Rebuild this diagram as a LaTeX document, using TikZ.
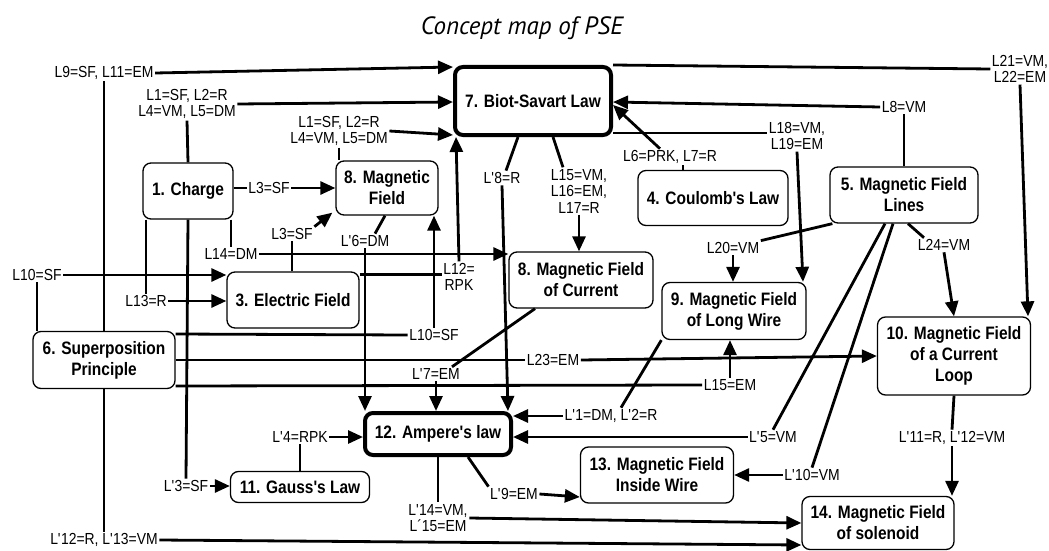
\documentclass[tikz,border=0pt]{standalone}
\usepackage{fontspec}
\setmainfont{Liberation Sans}
\newfontfamily\lblfont[FakeStretch=0.87]{Liberation Sans}
\newfontfamily\cfont[FakeStretch=0.86]{Liberation Sans}
\newfontfamily\titlefont{PT Sans}
\usetikzlibrary{arrows.meta,calc}
\newcommand\myq{\textquotesingle}
\begin{document}
\begin{tikzpicture}[x=1pt,y=-1pt,
  concept/.style={draw, rounded corners=8pt, line width=1.3pt, align=center, inner sep=0pt, font=\cfont\bfseries\fontsize{18}{21}\selectfont},
  mainc/.style={concept, line width=4pt},
  lbl/.style={inner sep=1.5pt, align=center, font=\lblfont\fontsize{16}{16.5}\selectfont},
  conn/.style={line width=2.8pt},
  arr/.style={conn, -{Triangle[length=15pt,width=13pt]}},
]
\useasboundingbox (0,0) rectangle (1049,551);

\node[font=\titlefont\itshape\fontsize{25}{28}\selectfont] (title) at (522,28) {Concept map of PSE};

% concepts
\node[mainc, minimum width=156pt, minimum height=68pt] (n7) at (533,101) {7. Biot-Savart Law};
\node[concept, minimum width=90pt, minimum height=56pt] (n1) at (188,191) {1. Charge};
\node[concept, minimum width=102pt, minimum height=54pt] (n8a) at (387,188) {8. Magnetic\\Field};
\node[concept, minimum width=150pt, minimum height=55pt] (n4) at (713,198) {4. Coulomb's Law};
\node[concept, minimum width=148pt, minimum height=56pt] (n5) at (904,195) {5. Magnetic Field\\Lines};
\node[concept, minimum width=132pt, minimum height=56pt] (n3) at (293,300) {3. Electric Field};
\node[concept, minimum width=144pt, minimum height=56pt] (n8b) at (581,280) {8. Magnetic Field\\of Current};
\node[concept, minimum width=144pt, minimum height=57pt] (n9) at (734,311) {9. Magnetic Field\\of Long Wire};
\node[concept, minimum width=153pt, minimum height=78pt] (n10) at (954,356) {10. Magnetic Field\\of a Current\\Loop};
\node[concept, minimum width=142pt, minimum height=57pt] (n6) at (104,360) {6. Superposition\\Principle};
\node[mainc, minimum width=146pt, minimum height=42pt] (n12) at (438,434) {12. Ampere's law};
\node[concept, minimum width=139pt, minimum height=31pt] (n11) at (300,487) {11. Gauss's Law};
\node[concept, minimum width=153pt, minimum height=56pt] (n13) at (657,475) {13. Magnetic Field\\Inside Wire};
\node[concept, minimum width=152pt, minimum height=53pt] (n14) at (878,523) {14. Magnetic Field\\of solenoid};

% labels
\node[lbl] (l9) at (104,73) {L9=SF, L11=EM};
\node[lbl] (lA) at (187,104) {L1=SF, L2=R\\L4=VM, L5=DM};
\node[lbl] (lB) at (339,131) {L1=SF, L2=R\\L4=VM, L5=DM};
\node[lbl] (l3a) at (269,188) {L3=SF};
\node[lbl] (l3b) at (292,234) {L3=SF};
\node[lbl] (l14) at (231,254) {L14=DM};
\node[lbl] (l6p) at (365,241) {L\myq6=DM};
\node[lbl] (l12) at (459,277) {L12=\\RPK};
\node[lbl] (l10b) at (434,335) {L10=SF};
\node[lbl] (l8p) at (502,178) {L\myq8=R};
\node[lbl] (l15) at (579,191) {L15=VM,\\L16=EM,\\L17=R};
\node[lbl] (l6) at (670,157) {L6=PRK, L7=R};
\node[lbl] (l8) at (904,107) {L8=VM};
\node[lbl] (l21) at (1020,69) {L21=VM,\\L22=EM};
\node[lbl] (l18) at (797,136) {L18=VM,\\L19=EM};
\node[lbl] (l20) at (733,248) {L20=VM};
\node[lbl] (l24) at (944,245) {L24=VM};
\node[lbl] (l5p) at (773,437) {L\myq5=VM};
\node[lbl] (l10p) at (812,475) {L\myq10=VM};
\node[lbl] (l1p) at (611,416) {L\myq1=DM, L\myq2=R};
\node[lbl] (l7p) at (436,374) {L\myq7=EM};
\node[lbl] (l23) at (553,360) {L23=EM};
\node[lbl] (l15b) at (730,385) {L15=EM};
\node[lbl] (l13) at (146,301) {L13=R};
\node[lbl] (l10a) at (37,275) {L10=SF};
\node[lbl] (l3p) at (186,486) {L\myq3=SF};
\node[lbl] (l4p) at (300,437) {L\myq4=RPK};
\node[lbl] (l9p) at (514,494) {L\myq9=EM};
\node[lbl] (l14p) at (438,518) {L\myq14=VM,\\L´15=EM};
\node[lbl] (l12p) at (104,540) {L\myq12=R, L\myq13=VM};
\node[lbl] (l11p) at (952,438) {L\myq11=R, L\myq12=VM};

% connectors
\draw[conn] (n6.north) -- (l9.south);
\draw[arr] (l9.east) -- ([yshift=34pt]n7.west);

\draw[conn] (n1.north) -- (lA.south);
\draw[arr] (lA.east) -- ([yshift=-1pt]n7.west);

\draw[conn] (lB.south) -- (lB.south |- n8a.north);
\draw[arr] (lB.east) -- ([yshift=-34pt]n7.west);

\draw[conn] (n1.east |- l3a) -- (l3a.west);
\draw[arr] (l3a.east) -- (l3a.east -| n8a.west);

\draw[conn] (l3b.south |- n3.north) -- (l3b.south);
\draw[arr] (l3b.north east) -- ([shift={(-3pt,3pt)}]n8a.south west);

\draw[conn] (l14.north |- n1.south) -- (l14.north);
\draw[arr] (l14.east) -- (l14.east -| n8b.west);

\draw[conn] ([xshift=-2pt]n8a.south) -- ([xshift=10pt]l6p.north);
\draw[arr] (l6p.south) -- (l6p.south |- n12.north);

\draw[conn] ([yshift=-3pt]n3.north east) -- ([yshift=-3pt]n3.north east -| l12.west);
\draw[arr] (l12.north) -- ([xshift=-77pt]n7.south);

\draw[conn] ([yshift=26pt]n6.east) -- (l10b.west);
\draw[arr] (l10b.north) -- (l10b.north |- n8a.south);

\draw[conn] ([xshift=-15pt]n7.south) -- ([xshift=4pt]l8p.north);
\draw[arr] (l8p.south) -- ([xshift=70pt]n12.north);

\draw[conn] ([xshift=20pt]n7.south) -- ([xshift=-16pt]l15.north);
\draw[arr] (l15.south) -- (l15.south |- n8b.north);

\draw[conn] ([xshift=13pt]l6.south) -- ([xshift=-30pt]n4.north);
\draw[arr] ([xshift=-10pt]l6.north) -- ([yshift=-4pt]n7.east);

\draw[conn] (n5.north) -- (l8.south);
\draw[arr] (l8.west) -- ([yshift=-1pt]n7.east);

\draw[conn] (n7.north east) -- (l21.west);
\draw[arr] (l21.south) -- ([xshift=74pt]n10.north);

\draw[conn] ([yshift=-32pt]n7.east) -- ([yshift=3pt]l18.west);
\draw[arr] (l18.south) -- ([xshift=69pt]n9.north);

\draw[conn] ([xshift=3pt]n5.south west) -- (l20.north east);
\draw[arr] (l20.south) -- (l20.south |- n9.north);

\draw[conn] ([xshift=4pt]n5.south) -- ([xshift=-20pt]l24.north);
\draw[arr] (l24.south) -- (n10.north);

\draw[conn] ([xshift=-19pt]n5.south) -- (l5p.north);
\draw[arr] (l5p.west) -- (l5p.west -| n12.east);

\draw[conn] ([xshift=-11pt]n5.south) -- (l10p.north);
\draw[arr] (l10p.west) -- (l10p.west -| n13.east);

\draw[conn] (n9.south west) -- ([xshift=10pt]l1p.north);
\draw[arr] (l1p.west) -- (l1p.west -| n12.east);

\draw[conn] ([xshift=-46pt]n8b.south) -- ([xshift=16pt]l7p.north);
\draw[arr] (l7p.south) -- (l7p.south |- n12.north);

\draw[conn] (n6.east) -- (l23.west);
\draw[arr] (l23.east) -- (n10.west);

\draw[conn] ([yshift=-26pt]n6.east) -- (l15b.west);
\draw[arr] (l15b.north) -- (l15b.north |- n9.south);

\draw[conn] ([xshift=-42pt]n1.south) -- (l13.north);
\draw[arr] (l13.east) -- (l13.east -| n3.west);

\draw[conn] (l10a.south) -- (l10a.south |- n6.north);
\draw[arr] (l10a.east) -- (l10a.east -| n3.west);

\draw[conn] (n1.south) -- (l3p.north);
\draw[arr] (l3p.east) -- (l3p.east -| n11.west);

\draw[conn] (n11.north) -- (l4p.south);
\draw[arr] (l4p.east) -- (l4p.east -| n12.west);

\draw[conn] ([xshift=30pt]n12.south) -- (l9p.north west);
\draw[arr] (l9p.east) -- ([yshift=-22pt]n13.west);

\draw[conn] (n12.south) -- (l14p.north);
\draw[arr] (l14p.east) -- (n14.west);

\draw[conn] (n6.south) -- (l12p.north);
\draw[arr] (l12p.east) -- ([yshift=-22pt]n14.west);

\draw[conn] (n10.south) -- (l11p.north);
\draw[arr] (l11p.south) -- (l11p.south |- n14.north);
\end{tikzpicture}
\end{document}
